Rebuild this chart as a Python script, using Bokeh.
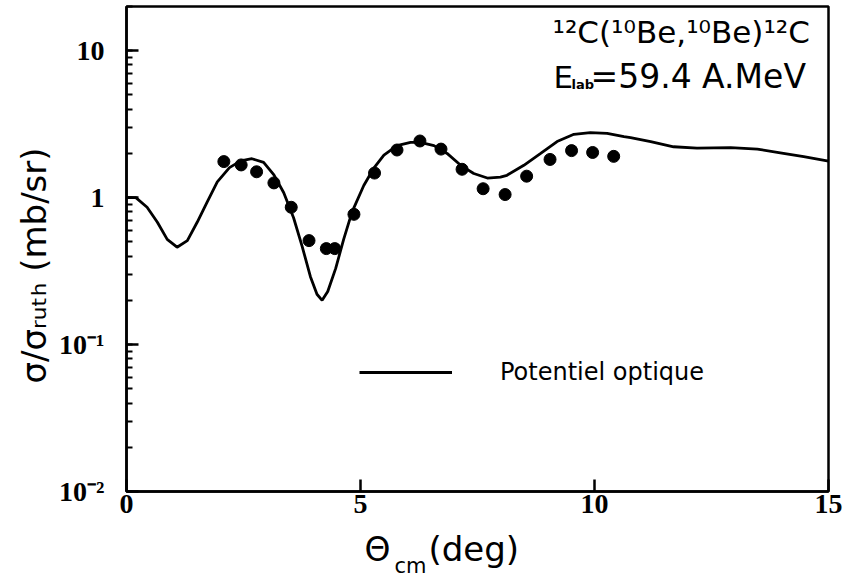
import math
from bokeh.plotting import figure
from bokeh.layouts import column
from bokeh.models import Label, Legend, LegendItem, FixedTicker
from bokeh.embed import file_html
from bokeh.resources import INLINE

# ---- data ----
theta_curve = [0.0, 0.2, 0.44, 0.66, 0.87, 1.08, 1.30, 1.51, 1.72, 1.94, 2.2, 2.44,
               2.68, 2.93, 3.15, 3.36, 3.57, 3.75, 3.93, 4.07, 4.18, 4.30, 4.47,
               4.64, 4.82, 5.07, 5.28, 5.50, 5.78, 6.07, 6.28, 6.57, 6.85, 7.14,
               7.42, 7.71, 7.99, 8.13, 8.49, 8.85, 9.20, 9.56, 9.91, 10.27, 10.63,
               10.77, 11.20, 11.69, 12.19, 12.91, 13.48, 13.97, 14.47, 15.0]
sigma_curve = [1.0, 1.0, 0.86, 0.68, 0.52, 0.46, 0.51, 0.68, 0.93, 1.28, 1.60, 1.78,
               1.84, 1.74, 1.43, 1.08, 0.73, 0.47, 0.29, 0.22, 0.20, 0.23, 0.33,
               0.52, 0.80, 1.21, 1.58, 1.95, 2.26, 2.38, 2.38, 2.26, 2.00, 1.66,
               1.46, 1.36, 1.38, 1.42, 1.66, 2.00, 2.41, 2.70, 2.77, 2.74, 2.60,
               2.56, 2.41, 2.22, 2.17, 2.19, 2.14, 2.02, 1.90, 1.77]

theta_data = [2.08, 2.45, 2.78, 3.15, 3.52, 3.90, 4.27, 4.45, 4.86, 5.30, 5.78,
              6.27, 6.72, 7.17, 7.62, 8.09, 8.55, 9.05, 9.51, 9.96, 10.41]
sigma_data = [1.76, 1.67, 1.50, 1.26, 0.86, 0.51, 0.45, 0.45, 0.77, 1.47, 2.11,
              2.43, 2.14, 1.56, 1.15, 1.05, 1.40, 1.82, 2.09, 2.03, 1.91]

x_ticks = [0, 5, 10, 15]
y_tick_labels = {10.0: "10", 1.0: "1", 0.1: "10\u207b\u00b9", 0.01: "10\u207b\u00b2"}
legend_text = "Potentiel optique"
reaction_text = "\u00b9\u00b2C(\u00b9\u2070Be,\u00b9\u2070Be)\u00b9\u00b2C"
y_title = "\u03c3/\u03c3\u1d63\u1d64\u209c\u2095 (mb/sr)"

FONT = "DejaVu Sans"

p = figure(width=844, height=525, y_axis_type="log",
           x_range=(0, 15), y_range=(0.01, 20),
           output_backend="svg", toolbar_location=None,
           min_border_left=126, min_border_right=16,
           min_border_top=6, min_border_bottom=34)

p.background_fill_color = "white"
p.border_fill_color = "white"
p.grid.visible = False
p.outline_line_color = "black"
p.outline_line_width = 2.5

# x axis
p.xaxis.ticker = FixedTicker(ticks=x_ticks)
p.xaxis.minor_tick_line_color = None
p.xaxis.major_tick_in = 12
p.xaxis.major_tick_out = 0
p.xaxis.major_label_standoff = 3

# y axis
p.yaxis.major_tick_in = 12
p.yaxis.major_tick_out = 0
p.yaxis.minor_tick_in = 6
p.yaxis.minor_tick_out = 0
p.yaxis.major_label_overrides = y_tick_labels
p.yaxis.major_label_standoff = 22

for ax in (p.xaxis, p.yaxis):
    ax.axis_line_width = 2.5
    ax.axis_line_color = "black"
    ax.major_tick_line_width = 2.5
    ax.major_tick_line_color = "black"
    ax.minor_tick_line_width = 2
    ax.major_label_text_font = "Liberation Serif"
    ax.major_label_text_font_style = "bold"
    ax.major_label_text_font_size = "28px"
    ax.major_label_text_color = "black"
    ax.axis_label = None

r = p.line(theta_curve, sigma_curve, line_color="black", line_width=2.8)
p.scatter(theta_data, sigma_data, marker="circle", size=12,
          fill_color="black", line_color="black")

legend = Legend(items=[LegendItem(label=legend_text, renderers=[r])],
                location=(233, 105), padding=0, margin=0, spacing=0,
                glyph_width=93, glyph_height=20, label_standoff=48,
                label_height=20, border_line_color=None,
                background_fill_alpha=0,
                label_text_font=FONT, label_text_font_size="24px",
                label_text_color="black")
p.add_layout(legend)

def lab(fig, text, x, y, size, place="center", angle=0.0, style="normal"):
    fig.add_layout(Label(x=x, y=y, x_units="canvas", y_units="canvas", text=text,
                         text_font=FONT, text_font_size=size,
                         text_font_style=style,
                         text_color="black", text_align="left",
                         text_baseline="alphabetic", angle=angle), place)

# annotation texts (top right, inside the frame)
lab(p, reaction_text, 552, 31, "31px")
lab(p, "E", 553, 76, "31px")
lab(p, "lab", 571, 84, "13px", style="bold")
lab(p, "=59.4 A.MeV", 590, 76, "33px")

# y axis title (one label in the left panel)
lab(p, y_title, 33, 383, "34px", "left", math.pi / 2)

# x axis title: a strip below the main figure
q = figure(width=844, height=53, x_range=(0, 1), y_range=(0, 1),
           output_backend="svg", toolbar_location=None,
           x_axis_location=None, y_axis_location=None,
           min_border=0, min_border_left=0, min_border_right=0,
           min_border_top=0, min_border_bottom=0)
q.title.visible = False
q.grid.visible = False
q.outline_line_color = None
q.background_fill_color = "white"
q.border_fill_color = "white"
lab(q, "\u0398", 364, 24, "33px")
lab(q, "cm", 394, 40, "21px")
lab(q, "(deg)", 428, 23, "34px")

layout = column(p, q, spacing=0)
open("out.html", "w").write(file_html(layout, INLINE))
